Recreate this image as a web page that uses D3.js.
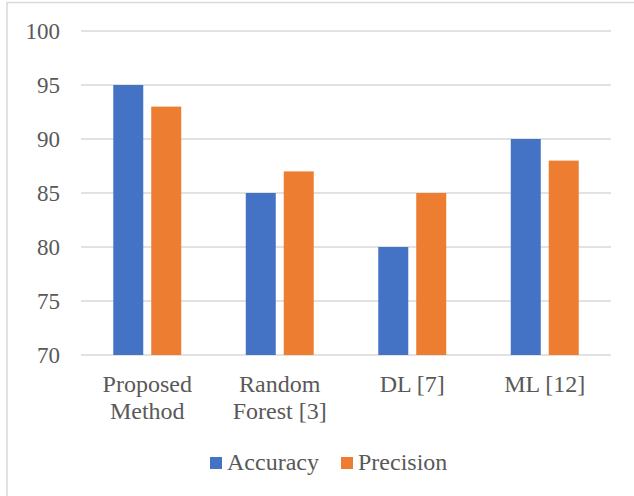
<!DOCTYPE html>
<html>
<head>
<meta charset="utf-8">
<script src="https://cdn.jsdelivr.net/npm/d3@7"></script>
<style>
  body { margin: 0; background: #fff; }
  svg { display: block; }
  svg text { font-family: 'Liberation Serif', 'Times New Roman', Times, serif; }
</style>
</head>
<body>
<div id="chart"></div>
<script>
// chart data
const categories = [['Proposed', 'Method'], ['Random', 'Forest [3]'], ['DL [7]'], ['ML [12]']];
const seriesNames = ['Accuracy', 'Precision'];
const accuracy = [95, 85, 80, 90];
const precision = [93, 87, 85, 88];
const yTicks = [70, 75, 80, 85, 90, 95, 100];
const colors = ['#4472C4', '#ED7D31'];

const width = 634;
const height = 496;
const plot = { left: 81, right: 611, top: 31, bottom: 355 };

const svg = d3.select('#chart').append('svg')
  .attr('width', width)
  .attr('height', height);

svg.append('rect')
  .attr('width', width).attr('height', height)
  .attr('fill', '#fff');

// chart border (right and bottom edges fall outside the crop)
svg.append('rect')
  .attr('x', 7).attr('y', 2.5)
  .attr('width', width + 10).attr('height', height + 10)
  .attr('fill', 'none')
  .attr('stroke', '#d9d9d9')
  .attr('stroke-width', 1.5);

const y = d3.scaleLinear()
  .domain([70, 100])
  .range([plot.bottom, plot.top]);

const keys = categories.map((c, i) => i);
const x0 = d3.scaleBand()
  .domain(keys)
  .range([plot.left, plot.right])
  .paddingInner(0.487)
  .paddingOuter(0.2435);

const x1 = d3.scaleBand()
  .domain(seriesNames)
  .range([0, x0.bandwidth()])
  .paddingInner(0.21);

// gridlines
svg.append('g')
  .selectAll('line')
  .data(yTicks)
  .enter().append('line')
  .attr('x1', plot.left).attr('x2', plot.right)
  .attr('y1', d => y(d)).attr('y2', d => y(d))
  .attr('stroke', '#d9d9d9')
  .attr('stroke-width', 1.5);

// y tick labels
svg.append('g')
  .selectAll('text')
  .data(yTicks)
  .enter().append('text')
  .attr('x', 60)
  .attr('y', d => y(d))
  .attr('dy', '0.35em')
  .attr('text-anchor', 'end')
  .attr('font-size', 23)
  .attr('fill', '#595959')
  .text(d => d);

// bars
const seriesData = [accuracy, precision];
seriesNames.forEach((name, s) => {
  svg.append('g')
    .attr('fill', colors[s])
    .selectAll('rect')
    .data(seriesData[s])
    .enter().append('rect')
    .attr('x', (d, i) => x0(i) + x1(name))
    .attr('width', x1.bandwidth())
    .attr('y', d => y(d))
    .attr('height', d => y(70) - y(d));
});

// category labels
const catLabels = svg.append('g')
  .selectAll('text')
  .data(categories)
  .enter().append('text')
  .attr('x', (d, i) => x0(i) + x0.bandwidth() / 2)
  .attr('y', 392)
  .attr('text-anchor', 'middle')
  .attr('font-size', 24)
  .attr('fill', '#595959');

catLabels.selectAll('tspan')
  .data((d, i) => d.map(line => ({ line, i })))
  .enter().append('tspan')
  .attr('x', d => x0(d.i) + x0.bandwidth() / 2)
  .attr('dy', (d, j) => j === 0 ? 0 : 27)
  .text(d => d.line);

// legend
const legendX = [210, 341];
const legend = svg.append('g');
seriesNames.forEach((name, s) => {
  legend.append('rect')
    .attr('x', legendX[s]).attr('y', 457)
    .attr('width', 12).attr('height', 12)
    .attr('fill', colors[s]);
  legend.append('text')
    .attr('x', legendX[s] + 17)
    .attr('y', 470)
    .attr('font-size', 24)
    .attr('fill', '#595959')
    .text(name);
});
</script>
</body>
</html>
